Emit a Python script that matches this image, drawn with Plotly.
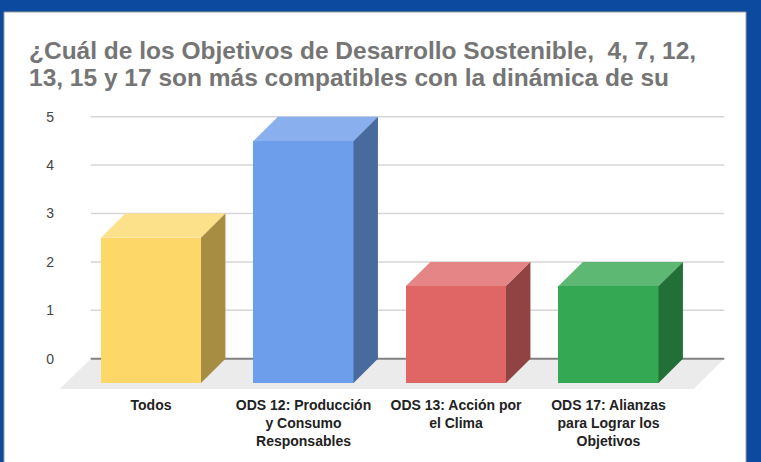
import plotly.graph_objects as go

# ---- data ----
categories = ["Todos", "ODS 12: Producción<br>y Consumo<br>Responsables",
              "ODS 13: Acción por<br>el Clima", "ODS 17: Alianzas<br>para Lograr los<br>Objetivos"]
values = [3, 5, 2, 2]
y_ticks = [0, 1, 2, 3, 4, 5]
title_lines = ["¿Cuál de los Objetivos de Desarrollo Sostenible,  4, 7, 12,",
               "13, 15 y 17 son más compatibles con la dinámica de su"]

front_colors = ["#fdd868", "#6d9eeb", "#e06666", "#34a853"]
top_colors = ["#fde08a", "#8aafef", "#e58585", "#5db873"]
side_colors = ["#a68d42", "#486a9c", "#914242", "#226f37"]

# ---- geometry (in axis units) ----
W = 0.656      # front face width (category units)
DX = 0.16      # depth offset, x
DY = 0.5       # depth offset, y
x_pos = list(range(len(categories)))
X_MIN, X_MAX = -0.6295, 3.7967
Y_MIN, Y_MAX = -0.75, 5.345
GRID_L, GRID_R = -0.395, 3.759

fig = go.Figure()

# floor
fig.add_shape(type="path",
              path=f"M {GRID_L} 0 L {GRID_R} 0 L {GRID_R - 1.25*DX} {-0.626} L {GRID_L - 1.27*DX} {-0.626} Z",
              xref="x", yref="y", fillcolor="#ebebeb", line=dict(width=0), layer="below")
# gridlines
for t in y_ticks[1:]:
    fig.add_shape(type="line", x0=GRID_L, x1=GRID_R, y0=t, y1=t, xref="x", yref="y",
                  line=dict(color="#d6d6d6", width=1.5), layer="below")
# zero line
fig.add_shape(type="line", x0=GRID_L, x1=GRID_R, y0=0, y1=0, xref="x", yref="y",
              line=dict(color="#808080", width=2), layer="below")

# top and side faces
for i, v in enumerate(values):
    xl = x_pos[i] - W / 2
    xr = x_pos[i] + W / 2
    fig.add_trace(go.Scatter(
        x=[xl, xl + DX, xr + DX, xr, xl], y=[v - DY, v, v, v - DY, v - DY],
        fill="toself", fillcolor=top_colors[i], mode="lines", line=dict(width=0),
        hoverinfo="skip", showlegend=False))
    fig.add_trace(go.Scatter(
        x=[xr, xr + DX, xr + DX, xr, xr], y=[-DY, 0, v, v - DY, -DY],
        fill="toself", fillcolor=side_colors[i], mode="lines", line=dict(width=0),
        hoverinfo="skip", showlegend=False))

# front faces
fig.add_trace(go.Bar(x=x_pos, y=values, base=[-DY] * len(values), width=W,
                     marker=dict(color=front_colors, line=dict(width=0)),
                     hoverinfo="skip", showlegend=False))

# white panel
fig.add_shape(type="rect", xref="paper", yref="paper",
              x0=(4 - 55) / 675, x1=(746 - 55) / 675,
              y0=(395 - 470) / 295, y1=(395 - 12) / 295,
              fillcolor="white", line=dict(color="#9e9e9e", width=1), layer="below")

# title lines
for k, (line, ypix) in enumerate(zip(title_lines, [50, 77.5])):
    fig.add_annotation(text="<b>" + line + "</b>", xref="paper", yref="paper",
                       x=(27 - 55) / 675, y=(395 - ypix) / 295,
                       xanchor="left", yanchor="middle", showarrow=False,
                       font=dict(size=24.5, color="#757575",
                                 family="Liberation Sans, Arial, sans-serif"))

fig.update_layout(
    width=761, height=462,
    margin=dict(l=55, r=31, t=100, b=67),
    paper_bgcolor="#0b4a9e", plot_bgcolor="rgba(0,0,0,0)",
    font=dict(family="Liberation Sans, Arial, sans-serif"),
    xaxis=dict(range=[X_MIN, X_MAX], tickvals=x_pos,
               ticktext=["<b>" + c + "</b>" for c in categories],
               tickfont=dict(size=14, color="#222222"),
               showgrid=False, zeroline=False, showline=False, ticks=""),
    yaxis=dict(range=[Y_MIN, Y_MAX], tickvals=y_ticks, showgrid=False, zeroline=False,
               showline=False, ticks="", tickfont=dict(size=14, color="#444444")),
    bargap=0,
)

fig.write_html("out.html", config={"displayModeBar": False},
               post_script="document.body.style.margin='0';document.body.style.overflow='hidden';")
